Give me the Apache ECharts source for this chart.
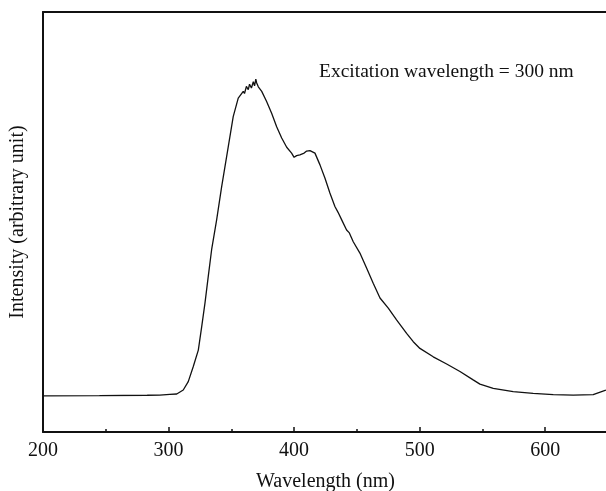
<!DOCTYPE html>
<html>
<head>
<meta charset="utf-8">
<script src="https://cdn.jsdelivr.net/npm/echarts@6/dist/echarts.min.js"></script>
<style>
html,body{margin:0;padding:0;background:#fff;}
#c{width:606px;height:491px;}
</style>
</head>
<body>
<div id="c"></div>
<script>
// Emission spectrum
const wavelength = [200, 245, 283, 293, 301, 306.5, 311.7, 315.7, 319.7, 323.7, 326.4, 329, 331.6, 334.3, 338.3, 342.3, 347.6, 351.5, 355.5, 359.5, 360.5, 362, 363.5, 364.5, 366, 367.5, 368.5, 369.5, 370.2, 371.5, 374.2, 378.1, 382.1, 386.1, 390.1, 394.1, 398, 400, 402, 404.6, 406, 408, 410, 412.6, 414, 416.6, 420.6, 424.6, 428.5, 432.5, 435, 437.9, 441.8, 444, 447.1, 452.4, 457.8, 463, 468.4, 475, 481.6, 489.6, 494.9, 500.2, 510.8, 521.5, 532.1, 542.6, 548, 558.6, 574.5, 590.4, 606.4, 622.3, 638.2, 648.3];
const intensity  = [8.6, 8.65, 8.75, 8.8, 8.95, 9.05, 10.0, 12.0, 15.6, 19.5, 25.1, 30.7, 37.0, 43.4, 50.5, 58.4, 68.0, 75.1, 79.5, 81.1, 80.6, 82.3, 81.5, 82.8, 81.9, 83.4, 82.4, 84.0, 83.1, 82.2, 81.1, 78.7, 75.9, 72.7, 70.0, 67.8, 66.4, 65.4, 65.8, 66.0, 65.6, 66.4, 66.9, 67.0, 66.7, 66.4, 63.6, 60.4, 56.9, 53.7, 52.3, 50.5, 48.1, 47.4, 45.3, 42.6, 39.0, 35.4, 31.9, 29.5, 26.7, 23.5, 21.5, 19.9, 17.9, 16.2, 14.4, 12.4, 11.4, 10.4, 9.6, 9.2, 8.9, 8.8, 8.9, 10.0];
const xTicks = [200, 300, 400, 500, 600];
const annotation = 'Excitation wavelength = 300 nm';

const data = wavelength.map((w, i) => [w, intensity[i]]);
const serif = '"Liberation Serif", "DejaVu Serif", serif';

const chart = echarts.init(document.getElementById('c'), null, {renderer: 'canvas'});
chart.setOption({
  animation: false,
  backgroundColor: '#fff',
  grid: {
    left: 43, top: 12, width: 565, height: 420,
    outerBoundsMode: 'none', containLabel: false, show: false
  },
  graphic: [{
    type: 'text', left: 319, top: 62, silent: true,
    style: {text: annotation, font: '19.5px ' + serif, fill: '#111'}
  }],
  xAxis: [{
    type: 'value', min: xTicks[0], max: 650, interval: 100,
    name: 'Wavelength (nm)', nameLocation: 'middle', nameGap: 40,
    nameTextStyle: {fontFamily: serif, fontSize: 20, color: '#111'},
    axisLine: {show: true, onZero: false, lineStyle: {color: '#111', width: 2}},
    axisTick: {show: true, inside: true, length: 5, lineStyle: {color: '#111', width: 1.5}},
    minorTick: {show: true, splitNumber: 2, length: 3, lineStyle: {color: '#111', width: 1.5}},
    axisLabel: {fontFamily: serif, fontSize: 20, color: '#111', margin: 9,
      formatter: v => xTicks.includes(v) ? String(v) : ''},
    splitLine: {show: false}
  }, {
    type: 'value', position: 'top', min: xTicks[0], max: 650,
    axisLine: {show: true, onZero: false, lineStyle: {color: '#111', width: 2}},
    axisTick: {show: false}, axisLabel: {show: false}, splitLine: {show: false}
  }],
  yAxis: {
    type: 'value', min: 0, max: 100,
    name: 'Intensity (arbitrary unit)', nameLocation: 'middle', nameGap: 15, nameRotate: 90,
    nameTextStyle: {fontFamily: serif, fontSize: 20, color: '#111'},
    axisLine: {show: true, onZero: false, lineStyle: {color: '#111', width: 2}},
    axisTick: {show: false},
    axisLabel: {show: false},
    splitLine: {show: false}
  },
  series: [{
    type: 'line', data: data, showSymbol: false, smooth: false,
    lineStyle: {color: '#111', width: 1.3}
  }]
});
</script>
</body>
</html>
